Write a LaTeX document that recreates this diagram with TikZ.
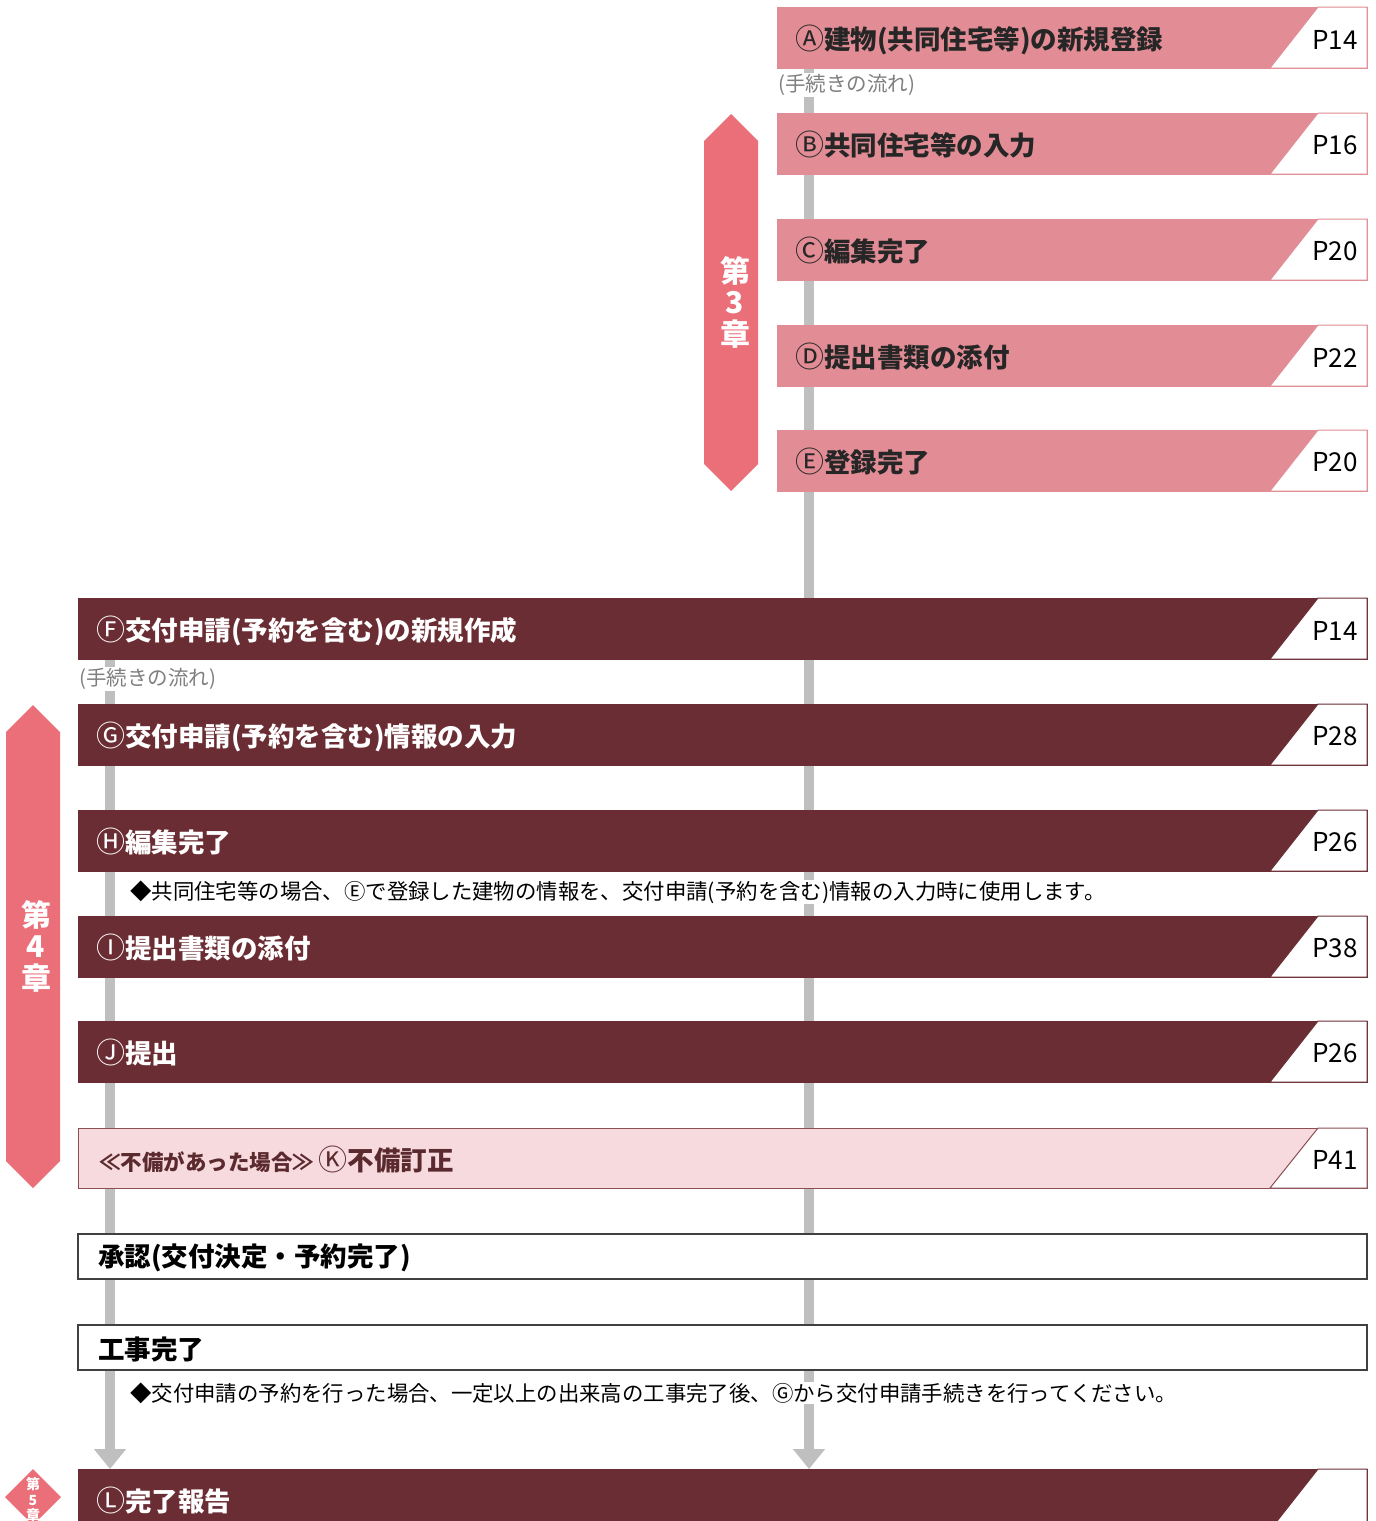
\documentclass[tikz,border=0pt]{standalone}
\usepackage{fontspec}
\newfontfamily\jp{Noto Sans CJK JP}
\usetikzlibrary{arrows.meta}
\definecolor{pinkA}{HTML}{E28D95}
\definecolor{chapc}{HTML}{EA6F79}
\definecolor{wine}{HTML}{6B2D34}
\definecolor{pinkK}{HTML}{F7DADD}
\definecolor{wineline}{HTML}{8C4E54}
\definecolor{flowgray}{HTML}{BFBFBF}
\definecolor{boxline}{HTML}{404040}
\definecolor{txtdark}{HTML}{262626}
\definecolor{ktxt}{HTML}{5A2A2F}
\definecolor{notegray}{HTML}{7F7F7F}
\pgfdeclarelayer{back}
\pgfdeclarelayer{bg}
\pgfsetlayers{back,bg,main}
\newcommand\circl[1]{{\mdseries\fontsize{29}{29}\selectfont #1}}
\newcommand\pagecorner[3]{%
  \fill[white] ([xshift=-49pt]#1.north east) -- (#1.north east) -- (#1.south east) -- ([xshift=-97pt]#1.south east) -- cycle;
  \draw[#2, line width=1pt] ([xshift=-97pt]#1.south east) -- ([xshift=-49pt]#1.north east) -- (#1.north east) -- (#1.south east) -- cycle;
  \node[pnum] (#1p) at ([xshift=-32pt,yshift=-2pt]#1.east) {#3};
}
\begin{document}
\begin{tikzpicture}[x=1pt,y=-1pt,
  bar/.style={anchor=north west, inner sep=0pt, outer sep=0pt, minimum height=61pt, line width=1pt},
  barA/.style={bar, fill=pinkA, draw=pinkA, minimum width=590pt},
  barF/.style={bar, fill=wine, draw=wine, minimum width=1289pt},
  barK/.style={bar, fill=pinkK, draw=wineline, minimum width=1289pt, minimum height=60pt},
  plainbox/.style={anchor=north west, inner sep=0pt, outer sep=0pt, draw=boxline, fill=white, line width=1.3pt, minimum width=1289pt, minimum height=45pt},
  ttl/.style={anchor=base west, inner sep=0pt, font=\jp\bfseries\fontsize{26.5}{26.5}\selectfont},
  ttlA/.style={ttl, text=txtdark},
  ttlF/.style={ttl, text=white},
  pnum/.style={inner sep=0pt, font=\jp\fontsize{26}{26}\selectfont, text=black},
  smallnote/.style={anchor=west, inner sep=1pt, fill=white, text=notegray, font=\jp\fontsize{20.5}{20.5}\selectfont},
  note/.style={anchor=west, inner sep=1pt, fill=white, text=black, font=\jp\fontsize{21.4}{21.4}\selectfont},
  chaptxt/.style={align=center, text=white, inner sep=0pt, font=\jp\bfseries\fontsize{30}{31.5}\selectfont},
  chapfill/.style={fill=chapc},
  flow/.style={draw=flowgray, line width=10pt, -{Triangle[length=20pt,width=31pt]}}
]
\clip (0,0) rectangle (1376,1521);
\begin{pgfonlayer}{back}
\fill[white] (0,0) rectangle (1376,1521);
\end{pgfonlayer}

% chapter 3 bars
\node[barA] (A) at (777,7) {};
\node[barA] (B) at (777,113) {};
\node[barA] (C) at (777,219) {};
\node[barA] (D) at (777,325) {};
\node[barA] (E) at (777,430) {};
\pagecorner{A}{pinkA}{P14}
\pagecorner{B}{pinkA}{P16}
\pagecorner{C}{pinkA}{P20}
\pagecorner{D}{pinkA}{P22}
\pagecorner{E}{pinkA}{P20}
\node[ttlA] (At) at ([xshift=18pt,yshift=-12pt]A.west) {\circl{Ⓐ}建物(共同住宅等)の新規登録};
\node[ttlA] (Bt) at ([xshift=18pt,yshift=-12pt]B.west) {\circl{Ⓑ}共同住宅等の入力};
\node[ttlA] (Ct) at ([xshift=18pt,yshift=-12pt]C.west) {\circl{Ⓒ}編集完了};
\node[ttlA] (Dt) at ([xshift=18pt,yshift=-12pt]D.west) {\circl{Ⓓ}提出書類の添付};
\node[ttlA] (Et) at ([xshift=18pt,yshift=-12pt]E.west) {\circl{Ⓔ}登録完了};
\node[smallnote] (An) at (777,85) {(手続きの流れ)};

% chapter 4 bars
\node[barF] (F) at (78,598) {};
\node[barF] (G) at (78,704) {};
\node[barF] (H) at (78,810) {};
\node[barF] (I) at (78,916) {};
\node[barF] (J) at (78,1021) {};
\node[barK] (K) at (78,1128) {};
\node[plainbox] (S) at (78,1234) {};
\node[plainbox] (W) at (78,1325) {};
\node[barF] (L) at (78,1469) {};
\pagecorner{F}{wine}{P14}
\pagecorner{G}{wine}{P28}
\pagecorner{H}{wine}{P26}
\pagecorner{I}{wine}{P38}
\pagecorner{J}{wine}{P26}
\pagecorner{K}{wineline}{P41}
\pagecorner{L}{wine}{}
\node[ttlF] (Ft) at ([xshift=18pt,yshift=-12pt]F.west) {\circl{Ⓕ}交付申請(予約を含む)の新規作成};
\node[ttlF] (Gt) at ([xshift=18pt,yshift=-12pt]G.west) {\circl{Ⓖ}交付申請(予約を含む)情報の入力};
\node[ttlF] (Ht) at ([xshift=18pt,yshift=-12pt]H.west) {\circl{Ⓗ}編集完了};
\node[ttlF] (It) at ([xshift=18pt,yshift=-12pt]I.west) {\circl{Ⓘ}提出書類の添付};
\node[ttlF] (Jt) at ([xshift=18pt,yshift=-12pt]J.west) {\circl{Ⓙ}提出};
\node[ttl, text=ktxt] (Kt) at ([xshift=21pt,yshift=-12pt]K.west) {{\fontsize{21.5}{21.5}\selectfont ≪不備があった場合≫}\,\circl{Ⓚ}不備訂正};
\node[ttl, text=black] (St) at ([xshift=20pt,yshift=-10pt]S.west) {承認(交付決定・予約完了)};
\node[ttl, text=black] (Wt) at ([xshift=20pt,yshift=-12pt]W.west) {工事完了};
\node[ttlF] (Lt) at ([xshift=18pt,yshift=-12pt]L.west) {\circl{Ⓛ}完了報告};
\node[smallnote] (Fn) at (78,679) {(手続きの流れ)};
\node[note] (Hn) at (129,892) {◆共同住宅等の場合、Ⓔで登録した建物の情報を、交付申請(予約を含む)情報の入力時に使用します。};
\node[note] (Wn) at (129,1393) {◆交付申請の予約を行った場合、一定以上の出来高の工事完了後、Ⓖから交付申請手続きを行ってください。};

% chapter markers
\fill[chapfill] (731,114) -- (758,141) -- (758,464) -- (731,491) -- (704,464) -- (704,141) -- cycle;
\node[chaptxt] (ch3) at (735,302) {第\\3\\章};
\fill[chapfill] (33,705) -- (60,732) -- (60,1161) -- (33,1188) -- (6,1161) -- (6,732) -- cycle;
\node[chaptxt] (ch4) at (36,946) {第\\4\\章};
\fill[chapfill] (33,1469) -- (61,1497) -- (33,1525) -- (5,1497) -- cycle;
\node[chaptxt, font=\jp\bfseries\fontsize{14}{15.5}\selectfont] (ch5) at (33,1500) {第\\5\\章};

% flow lines
\coordinate (rl) at (809,0);
\coordinate (ll) at (110,0);
\begin{pgfonlayer}{bg}
\draw[flow] (A.south -| rl) -- (L.north -| rl);
\draw[flow] (F.south -| ll) -- (L.north -| ll);
\end{pgfonlayer}
\end{tikzpicture}
\end{document}
